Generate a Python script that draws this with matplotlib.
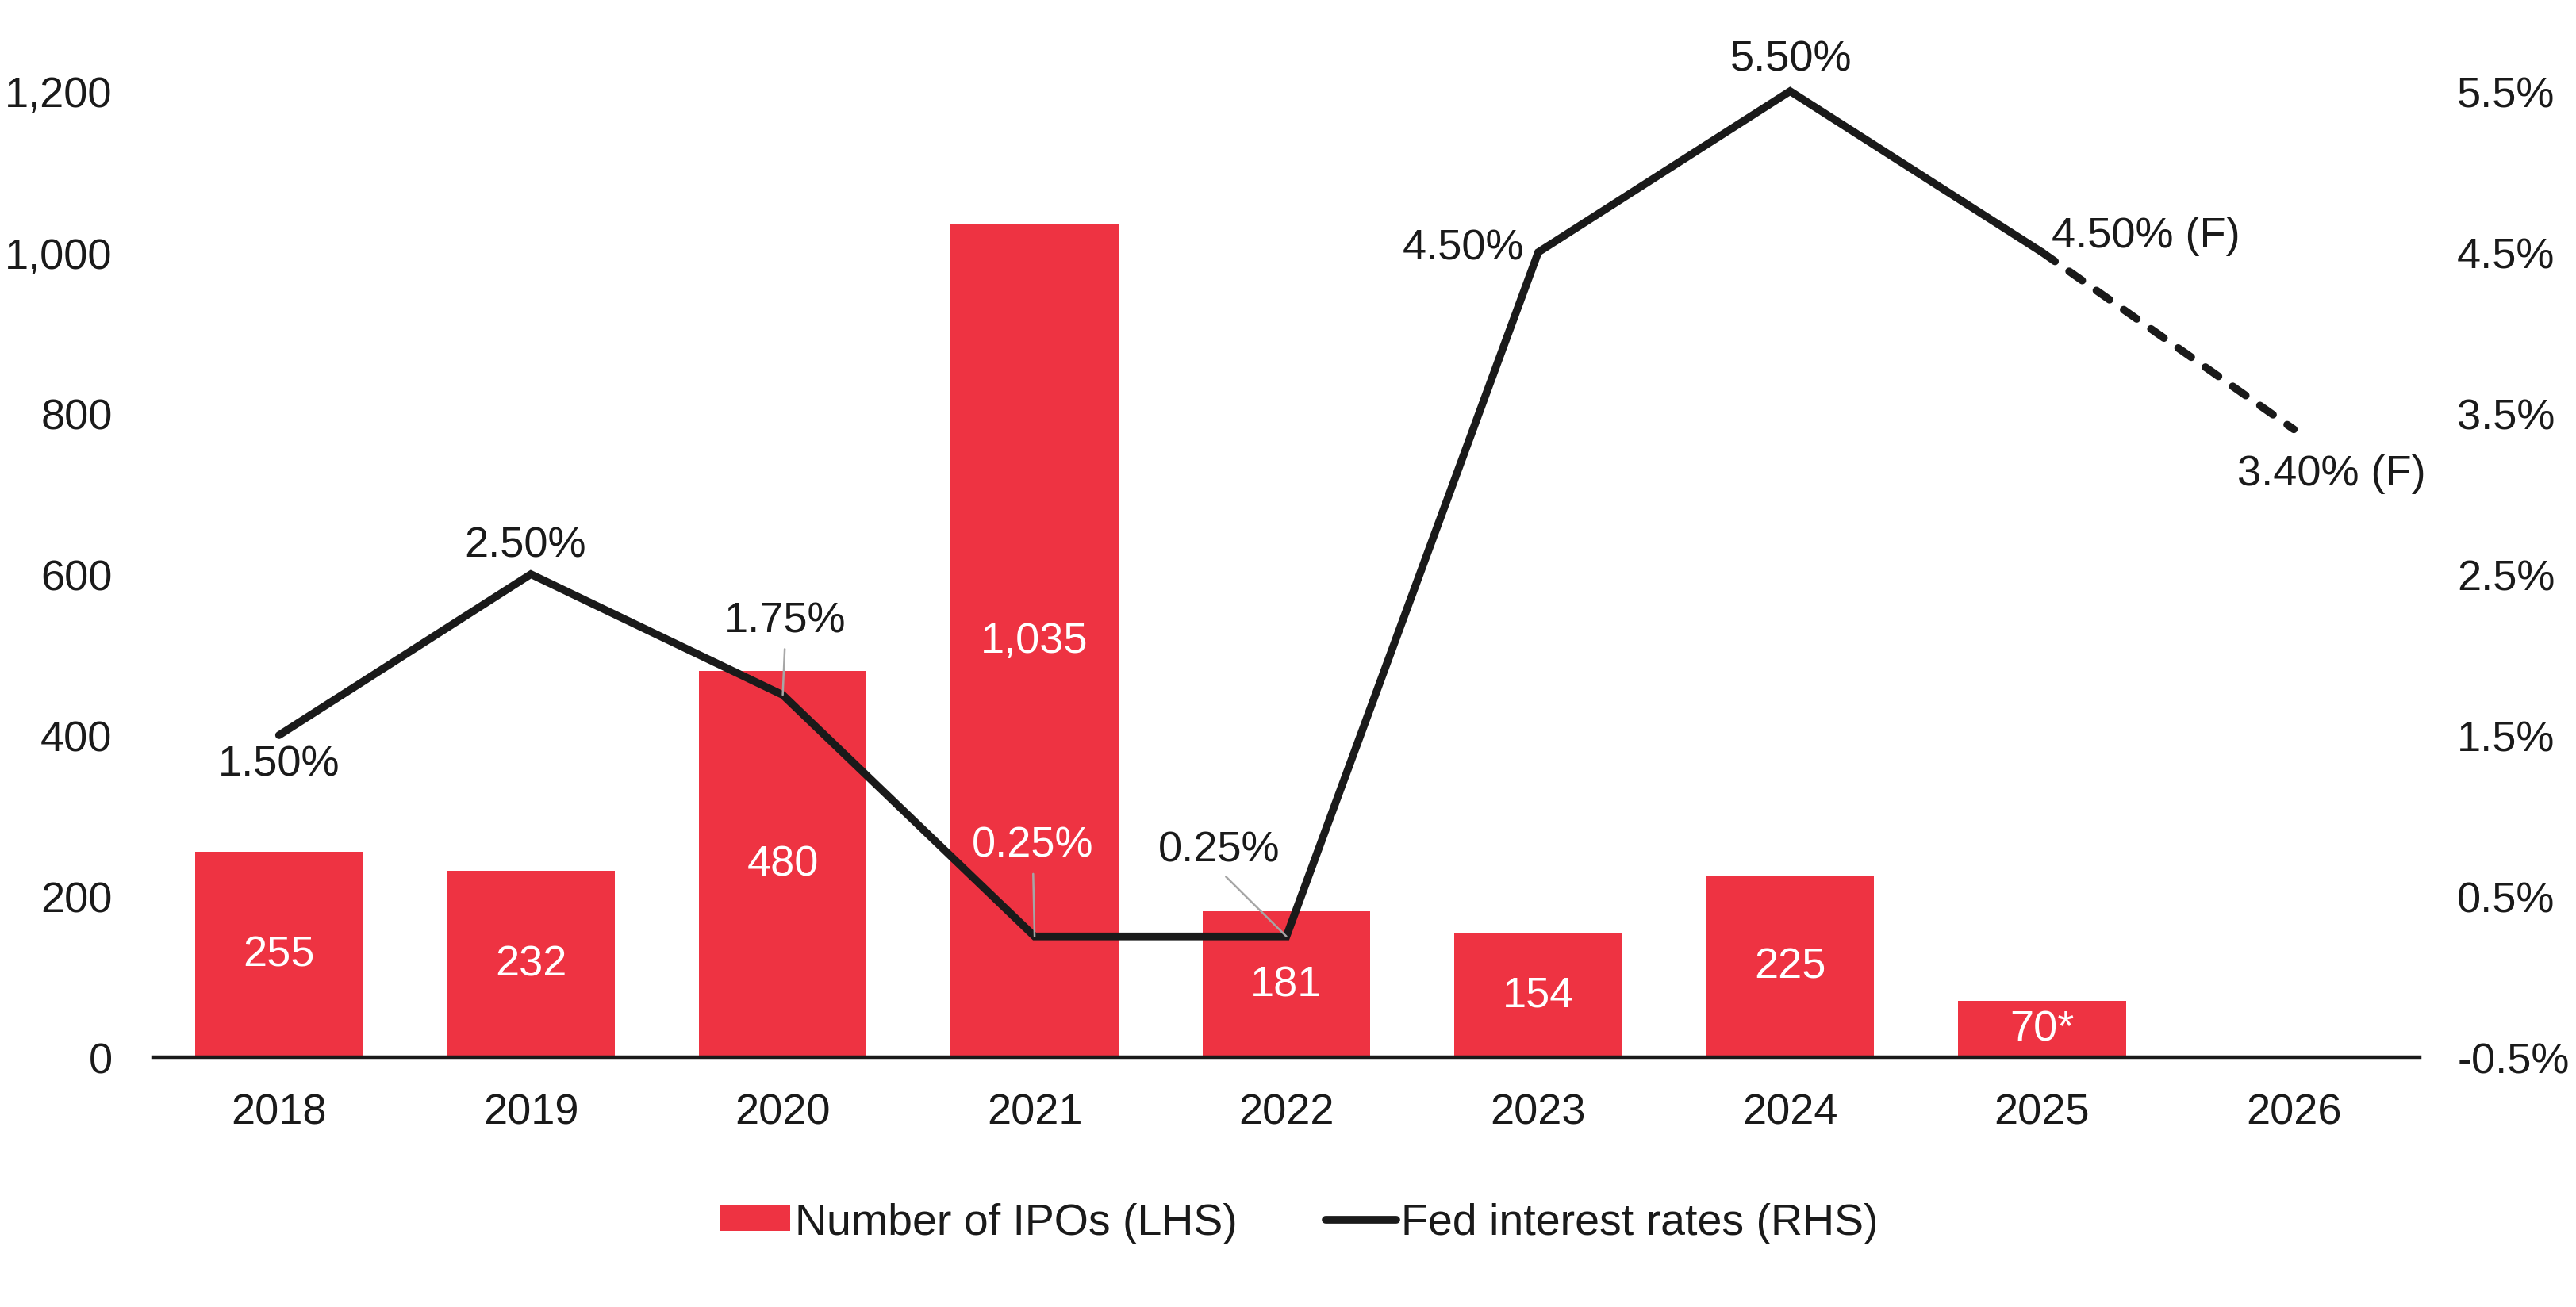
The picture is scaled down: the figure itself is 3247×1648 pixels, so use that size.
import matplotlib
matplotlib.use("Agg")
import matplotlib.pyplot as plt
from matplotlib.lines import Line2D
from matplotlib.patches import Patch

plt.rcParams['font.family'] = ['Liberation Sans', 'DejaVu Sans']

# ---------------- data ----------------
years = ['2018', '2019', '2020', '2021', '2022', '2023', '2024', '2025', '2026']
ipo_counts = [255, 232, 480, 1035, 181, 154, 225, 70]
ipo_labels = ['255', '232', '480', '1,035', '181', '154', '225', '70*']
fed_rates = [1.50, 2.50, 1.75, 0.25, 0.25, 4.50, 5.50, 4.50, 3.40]
rate_labels = ['1.50%', '2.50%', '1.75%', '0.25%', '0.25%', '4.50%', '5.50%',
               '4.50% (F)', '3.40% (F)']
n_actual_rates = 7  # solid up to 2025 (index 7), dashed to 2026
left_ticks = [0, 200, 400, 600, 800, 1000, 1200]
left_ticklabels = ['0', '200', '400', '600', '800', '1,000', '1,200']
right_ticks = [-0.5, 0.5, 1.5, 2.5, 3.5, 4.5, 5.5]
right_ticklabels = ['-0.5%', '0.5%', '1.5%', '2.5%', '3.5%', '4.5%', '5.5%']
legend_labels = ['Number of IPOs (LHS)', 'Fed interest rates (RHS)']

# ---------------- style ----------------
RED = '#EE3342'
BLACK = '#1A1A1A'
GREY = '#A6A6A6'
FS = 39
FS_LEG = 40

W, H = 3248, 1649
fig = plt.figure(figsize=(W / 100, H / 100), dpi=100)
ax = fig.add_axes([193 / W, 1 - 1334 / H, (3050 - 193) / W, (1334 - 116) / H])
ax2 = ax.twinx()

x = list(range(len(years)))
ax.bar(x[:len(ipo_counts)], ipo_counts, width=0.667, color=RED, zorder=2)
for xi, v, lab in zip(x, ipo_counts, ipo_labels):
    ax.text(xi, v / 2, lab, ha='center', va='center', color='white',
            fontsize=FS, zorder=3)

ax.set_xlim(-0.5, len(years) - 0.5)
ax.set_ylim(0, 1200)
ax.set_xticks(x)
ax.set_xticklabels(years)
ax.set_yticks(left_ticks)
ax.set_yticklabels(left_ticklabels)
ax.tick_params(axis='x', length=0, pad=32, labelsize=FS, colors=BLACK)
ax.tick_params(axis='y', length=0, pad=37, labelsize=FS, colors=BLACK)
for s in ['top', 'right', 'left']:
    ax.spines[s].set_visible(False)
ax.spines['bottom'].set_linewidth(3.2)
ax.spines['bottom'].set_color(BLACK)
ax.spines['bottom'].set_zorder(4)

# line
ax2.set_ylim(-0.5, 5.5)
ax2.set_yticks(right_ticks)
ax2.set_yticklabels(right_ticklabels)
ax2.tick_params(axis='y', length=0, pad=34, labelsize=FS, colors=BLACK)
for s in ['top', 'right', 'left', 'bottom']:
    ax2.spines[s].set_visible(False)

LW = 7
ax2.plot(x[:n_actual_rates + 1], fed_rates[:n_actual_rates + 1], color=BLACK,
         lw=LW, solid_capstyle='round', solid_joinstyle='miter', clip_on=False, zorder=5)
ax2.plot(x[n_actual_rates:], fed_rates[n_actual_rates:], color=BLACK, lw=LW,
         dashes=(2.06, 2.26), dash_capstyle='round', clip_on=False, zorder=5)

# rate labels: (dx, dy in pixels, ha, color, leader)
label_style = [
    (0, -37, 'center', BLACK, False),
    (-7, 36, 'center', BLACK, False),
    (3, 94, 'center', BLACK, True),
    (-2, 115, 'center', 'white', True),
    (-85, 109, 'center', BLACK, True),
    (-18, 5, 'right', BLACK, False),
    (1, 41, 'center', BLACK, False),
    (12, 21, 'left', BLACK, False),
    (48, -56, 'center', BLACK, False),
]
for xi, r, lab, (dx, dy, ha, col, leader) in zip(x, fed_rates, rate_labels, label_style):
    kw = {}
    if leader:
        kw['arrowprops'] = dict(arrowstyle='-', color=GREY, lw=1.8,
                                shrinkA=6, shrinkB=0, relpos=(0.5, 0.0))
    ax2.annotate(lab, xy=(xi, r), xytext=(dx, dy), textcoords='offset pixels',
                 ha=ha, va='center', fontsize=FS, color=col, zorder=6,
                 annotation_clip=False, **kw)

handles = [Patch(facecolor=RED, edgecolor='none'),
           Line2D([0], [0], color=BLACK, lw=LW, solid_capstyle='round')]
fig.legend(handles, legend_labels, loc='center', bbox_to_anchor=(0.504, 0.0643),
           ncol=2, frameon=False, fontsize=FS_LEG, handlelength=1.6, handleheight=0.5,
           handletextpad=0.11, columnspacing=2.0, labelcolor=BLACK)

fig.savefig('out.png', dpi=100, facecolor='white')
